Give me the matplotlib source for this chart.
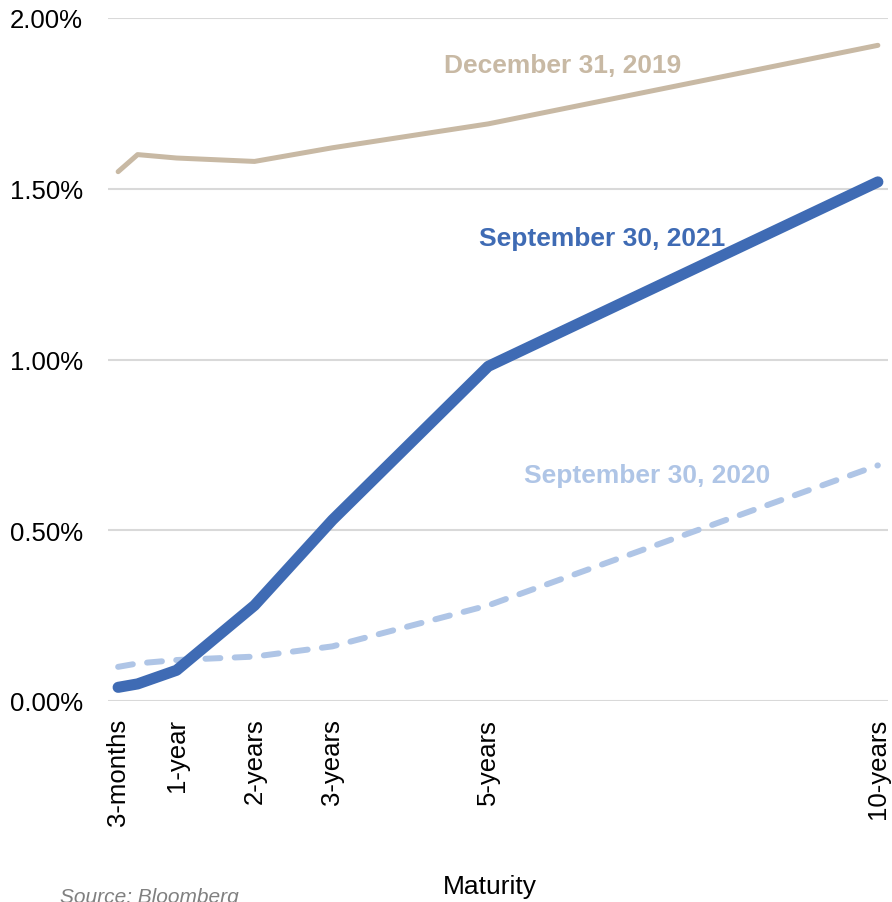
import matplotlib
matplotlib.use("Agg")
import matplotlib.pyplot as plt
from matplotlib.ticker import FuncFormatter

plt.rcParams['font.family'] = ['Liberation Sans', 'DejaVu Sans']

maturity_years = [0.25, 0.5, 1, 2, 3, 5, 10]
tick_positions = [0.25, 1, 2, 3, 5, 10]
tick_labels = ["3-months", "1-year", "2-years", "3-years", "5-years", "10-years"]

dec_2019 = [1.55, 1.60, 1.59, 1.58, 1.62, 1.69, 1.92]
sep_2021 = [0.04, 0.05, 0.09, 0.28, 0.53, 0.98, 1.52]
sep_2020 = [0.10, 0.11, 0.12, 0.13, 0.16, 0.28, 0.69]

c_2019 = "#C8B9A4"
c_2021 = "#3F6BB4"
c_2020 = "#AFC5E6"

W, H = 892, 903
fig = plt.figure(figsize=(W / 100, H / 100), dpi=100)
ax = fig.add_axes([108 / W, 1 - 702 / H, (888 - 108) / W, (702 - 19) / H])

ax.plot(maturity_years, dec_2019, color=c_2019, lw=3.6, solid_capstyle='round',
        solid_joinstyle='round', clip_on=False, zorder=3)
ax.plot(maturity_years, sep_2020, color=c_2020, lw=4.3, linestyle=(0, (2.5, 2.4)),
        dash_capstyle='round', clip_on=False, zorder=3)
ax.plot(maturity_years, sep_2021, color=c_2021, lw=8, solid_capstyle='round',
        solid_joinstyle='round', clip_on=False, zorder=4)

ax.set_xlim(0.12, 10.13)
ax.set_ylim(0, 2.0)
ax.set_yticks([0, 0.5, 1.0, 1.5, 2.0])
ax.yaxis.set_major_formatter(FuncFormatter(lambda v, p: f"{v:.2f}%"))
ax.set_xticks(tick_positions)
ax.set_xticklabels(tick_labels, rotation=90, va='top', ha='center')

ax.grid(axis='y', color='#D9D9D9', lw=1.5)
ax.set_axisbelow(True)
for s in ax.spines.values():
    s.set_visible(False)
ax.tick_params(axis='both', length=0, labelsize=18.5, colors='black')
ax.tick_params(axis='y', pad=18)
ax.tick_params(axis='x', pad=12)

ax.text(5.95, 1.862, "December 31, 2019", color=c_2019, fontsize=19, fontweight='bold',
        ha='center', va='center')
ax.text(6.46, 1.356, "September 30, 2021", color=c_2021, fontsize=19, fontweight='bold',
        ha='center', va='center')
ax.text(7.04, 0.662, "September 30, 2020", color=c_2020, fontsize=19, fontweight='bold',
        ha='center', va='center')

fig.text(490 / W, 1 - 887 / H, "Maturity", fontsize=19, ha='center', va='center')
fig.text(60 / W, 1 - 903 / H, "Source: Bloomberg", fontsize=15, style='italic',
         color='#808080', ha='left', va='baseline')

fig.savefig("out.png", dpi=100)
